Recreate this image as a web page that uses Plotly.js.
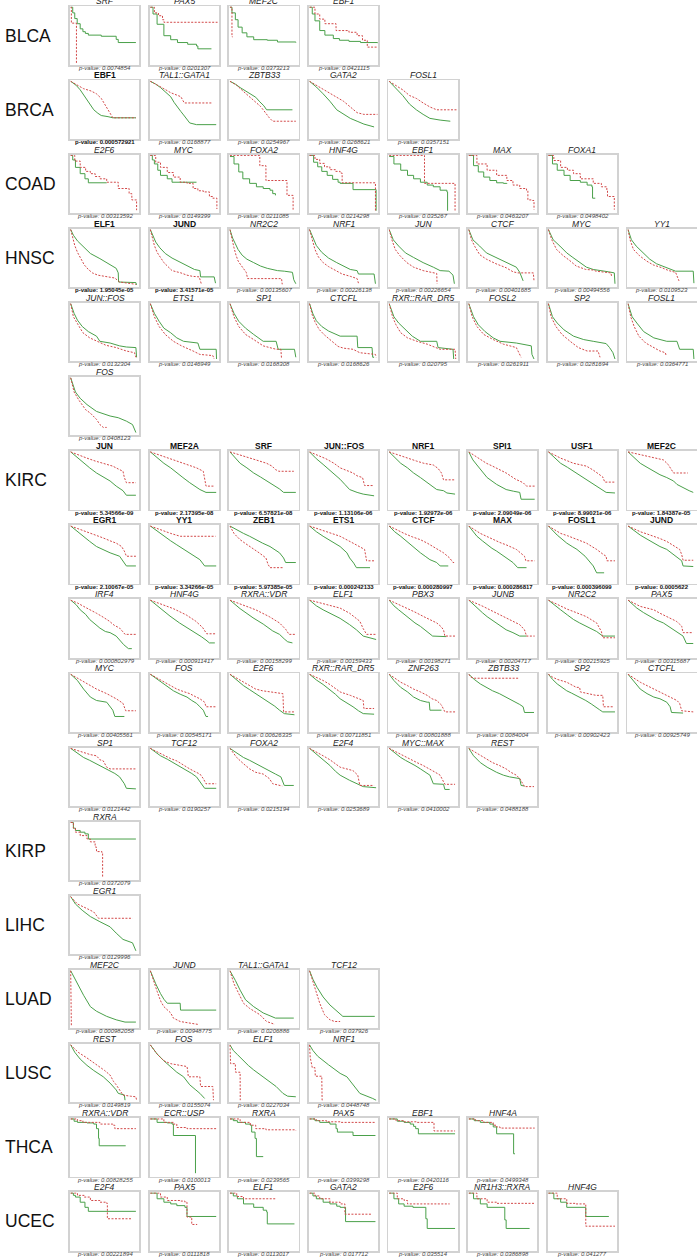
<!DOCTYPE html>
<html><head><meta charset="utf-8">
<script src="https://cdn.plot.ly/plotly-3.0.1.min.js"></script>
<style>html,body{margin:0;padding:0;background:#fff}#chart{width:697px;height:1259px}</style>
</head><body><div id="chart"></div>
<script>
// ---------------- DATA ----------------
const cancerTypes = ["BLCA","BRCA","COAD","HNSC","KIRC","KIRP","LIHC","LUAD","LUSC","THCA","UCEC"];
const panelsPerCancer = [4,5,7,17,38,1,1,4,4,6,7];
const genes = [
 "SRF","PAX5","MEF2C","EBF1",
 "EBF1","TAL1::GATA1","ZBTB33","GATA2","FOSL1",
 "E2F6","MYC","FOXA2","HNF4G","EBF1","MAX","FOXA1",
 "ELF1","JUND","NR2C2","NRF1","JUN","CTCF","MYC","YY1","JUN::FOS","ETS1","SP1","CTCFL","RXR::RAR_DR5","FOSL2","SP2","FOSL1","FOS",
 "JUN","MEF2A","SRF","JUN::FOS","NRF1","SPI1","USF1","MEF2C","EGR1","YY1","ZEB1","ETS1","CTCF","MAX","FOSL1","JUND",
 "IRF4","HNF4G","RXRA::VDR","ELF1","PBX3","JUNB","NR2C2","PAX5","MYC","FOS","E2F6","RXR::RAR_DR5","ZNF263","ZBTB33","SP2","CTCFL",
 "SP1","TCF12","FOXA2","E2F4","MYC::MAX","REST",
 "RXRA",
 "EGR1",
 "MEF2C","JUND","TAL1::GATA1","TCF12",
 "REST","FOS","ELF1","NRF1",
 "RXRA::VDR","ECR::USP","RXRA","PAX5","EBF1","HNF4A",
 "E2F4","PAX5","ELF1","GATA2","E2F6","NR1H3::RXRA","HNF4G"
];
const pValues = [
 "0.0074854","0.0201307","0.0373213","0.0421115",
 "0.000572921","0.0168877","0.0254967","0.0268621","0.0357151",
 "0.00313592","0.0149399","0.0211085","0.0214298","0.035267","0.0463207","0.0498402",
 "1.95045e-05","3.41571e-05","0.00135607","0.00226138","0.00226654","0.00401685","0.00494556","0.0109523",
 "0.0132304","0.0146949","0.0168308","0.0168626","0.020795","0.0261911","0.0281694","0.0364771","0.0408123",
 "5.34566e-09","2.17395e-08","6.57821e-08","1.13106e-06","1.92972e-06","2.09049e-06","8.99021e-06","1.84387e-05",
 "2.10067e-05","3.34266e-05","5.97385e-05","0.000242133","0.000280997","0.000286817","0.000396099","0.0005622",
 "0.000802979","0.000911417","0.00158299","0.00159433","0.00198271","0.00204717","0.00215925","0.00315687",
 "0.00405561","0.00545171","0.00626335","0.00711851","0.00801888","0.0084004","0.00902423","0.00925749",
 "0.0121442","0.0190257","0.0215194","0.0253689","0.0410002","0.0488188",
 "0.0372079",
 "0.0129996",
 "0.000982058","0.00948775","0.0206886","0.037926",
 "0.0149819","0.0155074","0.0227034","0.0448748",
 "0.00828255","0.0100013","0.0239565","0.0399298","0.0420116","0.0499348",
 "0.00221894","0.0111818","0.0113017","0.017712","0.035514","0.0386898","0.041277"
];
const significantPanels = [4,16,17,33,34,35,36,37,38,39,40,41,42,43,44,45,46,47,48];
const stepCancers = ["BLCA","COAD","KIRP","THCA","UCEC"];

// survival curves: flat lists [time, survival, time, survival, ...]; time 0-100
const solidCurves = [
 // BLCA
 [0,1, 3,0.9, 6,0.8, 9.6,0.71, 14,0.62, 18,0.57, 21.6,0.54, 26,0.51, 45,0.49, 67,0.435, 70,0.38, 96,0.38],
 [0,1, 4,0.88, 10,0.7, 20,0.5, 30,0.43, 40,0.38, 55,0.35, 68,0.32, 70,0.27, 90,0.27],
 [0,1, 3,0.9, 8,0.78, 12,0.65, 18,0.55, 25,0.48, 35,0.43, 55,0.42, 70,0.39, 97,0.38],
 [0,1, 4,0.88, 8,0.76, 15,0.59, 22.6,0.51, 35,0.45, 44,0.42, 58,0.4, 75,0.38, 100,0.37],
 // BRCA
 [0,1, 8,0.93, 14,0.85, 20,0.75, 24,0.67, 30,0.57, 34,0.5, 40,0.44, 45,0.4, 55,0.38, 62,0.36, 96,0.36],
 [0,1, 8,0.95, 15,0.89, 22,0.82, 30,0.73, 35,0.63, 39,0.56, 45,0.47, 49,0.41, 54,0.34, 58,0.27, 68,0.24, 97,0.24],
 [0,1, 8,0.95, 15,0.89, 25,0.82, 30,0.79, 38,0.72, 44,0.64, 50,0.57, 54,0.5, 92,0.5],
 [0,1, 10,0.9, 20,0.78, 30,0.65, 40,0.5, 50,0.42, 60,0.35, 70,0.3, 80,0.25, 95,0.2],
 [0,1, 10,0.88, 20,0.75, 30,0.6, 40,0.5, 50,0.42, 60,0.35, 75,0.32, 90,0.3],
 // COAD
 [0,1, 3,0.92, 7,0.79, 14,0.68, 21,0.59, 26,0.52, 53,0.52],
 [0,1, 3,0.92, 6,0.85, 11,0.74, 15,0.65, 25,0.59, 32,0.53, 68,0.53],
 [0,0.98, 6,0.85, 13,0.71, 19,0.59, 29,0.51, 39,0.45, 49,0.42, 59,0.39, 63,0.33, 67,0.3],
 [0,1, 6,0.88, 12,0.8, 18,0.72, 26,0.65, 34,0.58, 42,0.53, 45,0.51, 64,0.4, 98,0.03],
 [0,0.98, 7,0.85, 17,0.74, 27,0.65, 36,0.59, 46,0.53, 56,0.48, 65,0.45, 75,0.39, 85,0.36, 86,0.03],
 [0,1, 7,0.82, 14,0.71, 22,0.62, 31,0.56, 41,0.52, 51,0.51, 56,0.5],
 [0,1, 6,0.85, 13,0.74, 23,0.65, 32,0.56, 47,0.53, 57,0.48, 64,0.45, 65,0.25, 69,0.25],
 // HNSC
 [0,1, 4,0.9, 10,0.8, 19,0.69, 29,0.58, 43,0.49, 55,0.4, 67,0.32, 70,0.24, 70.5,0.08, 96,0.07, 97,0.03],
 [0,1, 4,0.88, 8,0.78, 14,0.68, 22,0.58, 32,0.5, 45,0.42, 55,0.36, 65,0.3, 73,0.28, 74,0.17, 94,0.17, 96,0.06],
 [0,1, 4,0.85, 8,0.75, 12,0.65, 18,0.55, 25,0.48, 35,0.42, 45,0.36, 55,0.32, 70,0.28, 80,0.27, 92,0.25, 94,0.12, 97,0.05],
 [0,1, 5,0.85, 10,0.72, 18,0.6, 28,0.5, 40,0.42, 50,0.36, 60,0.3, 70,0.28, 72,0.22, 95,0.22, 97,0.05],
 [0,1, 6,0.82, 14,0.71, 24,0.59, 36,0.51, 50,0.42, 65,0.34, 75,0.28, 88,0.27, 94,0.2, 96,0.05],
 [0,1, 6,0.82, 16,0.71, 26,0.59, 40,0.51, 55,0.42, 70,0.34, 75,0.25, 78,0.16, 80,0.1],
 [0,1, 7,0.82, 17,0.71, 27,0.59, 36,0.51, 46,0.42, 56,0.34, 66,0.3, 80,0.28, 88,0.26, 97,0.24, 98,0.05],
 [0,1, 5,0.82, 12,0.71, 22,0.59, 32,0.48, 42,0.4, 55,0.34, 65,0.3, 70,0.27, 96,0.27, 97,0.06],
 [0,1, 5,0.83, 10,0.71, 17,0.6, 26,0.51, 38,0.43, 43,0.34, 58,0.31, 72,0.26, 82,0.24, 96,0.23, 97,0.06],
 [0,1, 6,0.83, 13,0.69, 20,0.57, 30,0.49, 39,0.4, 49,0.34, 70,0.31, 73,0.2, 97,0.2, 97.5,0.03],
 [0,1, 6,0.83, 13,0.69, 23,0.57, 35,0.46, 49,0.34, 68,0.34, 71,0.2, 95,0.2, 97,0.06],
 [0,1, 5,0.82, 10,0.7, 18,0.6, 28,0.52, 38,0.46, 45,0.43, 70,0.43, 71,0.23, 92,0.23, 93,0.06, 95,0.06],
 [0,1, 7,0.77, 14,0.66, 24,0.54, 34,0.43, 46,0.34, 70,0.34, 72,0.23, 94,0.2, 95,0.03],
 [0,1, 7,0.77, 14,0.63, 24,0.51, 36,0.4, 46,0.34, 70,0.31, 92,0.26, 93,0.11, 96,0.03],
 [0,1, 6,0.77, 13,0.66, 23,0.54, 37,0.43, 52,0.37, 66,0.34, 85,0.3, 90,0.23, 95,0.14, 98,0.03],
 [0,1, 6,0.77, 13,0.66, 23,0.51, 38,0.4, 57,0.34, 72,0.34, 76,0.2, 96,0.2, 97,0.03],
 [0,1, 7,0.75, 14,0.64, 24,0.53, 38,0.41, 58,0.33, 70,0.3, 82,0.24, 91,0.18, 96,0.04],
 // KIRC row 1
 [0,1, 10,0.9, 19,0.8, 28,0.72, 38,0.63, 48,0.56, 58,0.49, 67,0.4, 77,0.32, 82,0.24, 96,0.24],
 [0,1, 10,0.9, 20,0.8, 30,0.72, 39,0.63, 48,0.55, 58,0.46, 66,0.4, 73,0.34, 82,0.29, 97,0.29],
 [0,1, 7,0.9, 15,0.8, 25,0.72, 35,0.63, 45,0.56, 54,0.49, 67,0.4, 73,0.35, 79,0.29, 97,0.29],
 [0,1, 10,0.88, 20,0.78, 30,0.68, 40,0.58, 45,0.52, 52,0.43, 59,0.34, 70,0.29, 79,0.26, 95,0.23],
 [0,1, 8,0.9, 17,0.8, 27,0.72, 36,0.63, 46,0.55, 56,0.46, 63,0.4, 70,0.34, 80,0.32, 85,0.28, 97,0.26],
 [0,1, 6,0.86, 12,0.77, 17,0.69, 27,0.55, 41,0.43, 55,0.34, 66,0.31, 75,0.29, 77,0.17, 97,0.17],
 [0,1, 9,0.9, 18,0.8, 28,0.73, 37,0.66, 47,0.59, 56,0.52, 64,0.46, 71,0.4, 80,0.34, 85,0.29, 98,0.28],
 [0,1, 9,0.9, 18,0.8, 28,0.73, 38,0.66, 47,0.6, 57,0.55, 67,0.49, 72,0.43, 81,0.37, 90,0.32, 96,0.29],
 // KIRC row 2
 [0,1, 10,0.9, 19,0.82, 28,0.73, 38,0.64, 48,0.58, 58,0.53, 72,0.47, 77,0.39, 82,0.3, 96,0.3],
 [0,1, 10,0.91, 20,0.82, 30,0.74, 39,0.67, 48,0.6, 58,0.53, 66,0.47, 73,0.41, 80,0.3, 97,0.3],
 [0,1, 10,0.93, 20,0.87, 29,0.82, 38,0.76, 48,0.7, 59,0.64, 66,0.58, 73,0.53, 79,0.44, 82,0.36, 97,0.36],
 [0,1, 10,0.9, 20,0.82, 30,0.75, 38,0.69, 45,0.64, 55,0.53, 59,0.44, 65,0.35, 69,0.27, 89,0.27],
 [0,1, 8,0.9, 17,0.82, 24,0.75, 31,0.67, 38,0.6, 46,0.53, 53,0.47, 60,0.41, 70,0.36, 75,0.3, 87,0.3],
 [0,1, 6,0.9, 12,0.82, 20,0.74, 27,0.67, 34,0.61, 41,0.56, 48,0.5, 55,0.44, 65,0.36, 72,0.27, 85,0.27],
 [0,1, 6,0.92, 13,0.84, 20,0.77, 27,0.7, 35,0.64, 42,0.59, 54,0.47, 61,0.36, 66,0.3, 71,0.18, 82,0.18],
 [0,1, 9,0.92, 18,0.84, 28,0.77, 38,0.7, 47,0.64, 57,0.59, 64,0.53, 71,0.47, 79,0.39, 81,0.3, 96,0.29],
 // KIRC row 3
 [0,1, 8,0.92, 14,0.83, 22,0.75, 28,0.66, 36,0.58, 43,0.51, 51,0.45, 58,0.43, 67,0.37, 72,0.3, 78,0.22, 85,0.15, 90,0.15],
 [0,1, 14,0.86, 29,0.72, 43,0.6, 57,0.5, 67,0.42, 75,0.36, 82,0.3, 87,0.25, 95,0.25],
 [0,1, 15,0.85, 34,0.69, 49,0.58, 63,0.46, 73,0.4, 80,0.32, 85,0.27, 92,0.25],
 [0,1, 10,0.9, 20,0.83, 30,0.77, 38,0.72, 45,0.68, 59,0.57, 69,0.48, 79,0.37, 98,0.31],
 [0,1, 7,0.9, 14,0.83, 22,0.75, 31,0.66, 38,0.6, 46,0.54, 56,0.45, 64,0.37, 84,0.36],
 [0,1, 6,0.93, 12,0.86, 20,0.78, 27,0.71, 34,0.65, 41,0.6, 48,0.54, 55,0.48, 65,0.43, 75,0.37, 85,0.37],
 [0,1, 9,0.91, 18,0.83, 28,0.74, 37,0.66, 46,0.6, 56,0.54, 64,0.49, 71,0.45, 80,0.37, 98,0.37],
 [0,1, 7,0.93, 13,0.86, 23,0.78, 33,0.71, 42,0.65, 52,0.6, 60,0.54, 67,0.48, 74,0.43, 81,0.37, 86,0.24, 96,0.24],
 // KIRC row 4
 [0,1, 5,0.94, 10,0.89, 19,0.74, 29,0.6, 38,0.54, 53,0.51, 62,0.37, 65,0.26, 79,0.26],
 [0,1, 8,0.93, 15,0.86, 25,0.78, 34,0.71, 44,0.65, 54,0.6, 61,0.54, 68,0.49, 73,0.43, 78,0.37, 82,0.26, 85,0.26],
 [0,1, 10,0.9, 20,0.8, 29,0.73, 38,0.66, 48,0.58, 58,0.51, 66,0.44, 73,0.37, 80,0.31, 95,0.29],
 [0,1, 10,0.9, 20,0.82, 30,0.73, 38,0.65, 45,0.57, 55,0.5, 64,0.43, 72,0.36, 79,0.31, 95,0.3],
 [0,1, 7,0.89, 17,0.77, 27,0.69, 36,0.6, 46,0.54, 56,0.51, 59,0.51, 60,0.37, 77,0.37],
 [0,1, 8,0.91, 17,0.83, 26,0.77, 35,0.71, 45,0.66, 55,0.6, 62,0.55, 70,0.51, 75,0.47, 80,0.43, 82,0.33, 96,0.33],
 [0,1, 6,0.91, 13,0.83, 20,0.77, 27,0.71, 34,0.67, 41,0.63, 48,0.58, 55,0.54, 63,0.48, 70,0.43, 75,0.38, 80,0.34, 98,0.34],
 [0,1, 9,0.86, 18,0.74, 28,0.66, 38,0.6, 47,0.57, 57,0.51, 62,0.43, 64,0.33, 81,0.32],
 // KIRC row 5
 [0,1, 10,0.92, 19,0.84, 28,0.79, 38,0.73, 48,0.67, 58,0.61, 65,0.56, 72,0.5, 79,0.38, 82,0.3, 96,0.29],
 [0,1, 8,0.93, 15,0.87, 25,0.81, 34,0.75, 44,0.68, 54,0.61, 61,0.56, 68,0.5, 75,0.38, 80,0.3, 97,0.3],
 [0,1, 10,0.92, 20,0.84, 29,0.79, 38,0.73, 48,0.67, 58,0.61, 67,0.55, 75,0.5, 80,0.35, 94,0.35],
 [0,1, 10,0.9, 20,0.8, 30,0.7, 38,0.6, 45,0.53, 59,0.44, 69,0.38, 79,0.33, 98,0.31],
 [0,1, 8,0.92, 17,0.84, 24,0.79, 31,0.75, 38,0.7, 46,0.64, 53,0.58, 60,0.53, 65,0.38, 80,0.37, 82,0.28, 89,0.28],
 [0,1, 7,0.87, 17,0.75, 27,0.67, 41,0.58, 51,0.53, 60,0.5, 75,0.47, 77,0.35, 82,0.34],
 // KIRP
 [0,1, 4,0.9, 7,0.86, 14,0.83, 21,0.8, 26,0.71, 96,0.71],
 // LIHC
 [0,1, 7,0.87, 17,0.76, 29,0.65, 43,0.56, 58,0.47, 67,0.36, 77,0.25, 91,0.19, 96,0.05],
 // LUAD
 [0,1, 5,0.88, 10,0.77, 15,0.67, 19,0.57, 24,0.47, 29,0.37, 38,0.29, 53,0.2, 67,0.14, 80,0.1, 96,0.1],
 [0,1, 4,0.88, 8,0.77, 15,0.6, 20,0.5, 25,0.43, 44,0.43, 44.5,0.31, 97,0.31],
 [0,1, 4,0.9, 8,0.83, 15,0.66, 23,0.49, 35,0.37, 49,0.26, 67,0.17, 94,0.17],
 [0,1, 5,0.85, 11,0.71, 20,0.54, 30,0.4, 39,0.31, 49,0.2, 96,0.2],
 // LUSC
 [0,1, 6,0.87, 14,0.75, 24,0.64, 34,0.55, 43,0.48, 48,0.44, 58,0.33, 67,0.21, 70,0.15, 79,0.12, 80,0.03],
 [0,1, 10,0.84, 20,0.72, 30,0.61, 39,0.52, 49,0.44, 58,0.3, 66,0.22, 73,0.15, 80,0.06],
 [0,1, 5,0.9, 11,0.83, 20,0.72, 27,0.64, 35,0.56, 42,0.5, 49,0.44, 56,0.38, 62,0.32, 68,0.27, 78,0.15, 85,0.1, 97,0.09],
 [0,1, 5,0.9, 12,0.8, 20,0.72, 28,0.65, 36,0.58, 45,0.5, 55,0.44, 64,0.3, 74,0.15, 93,0.06, 98,0.03],
 // THCA
 [0,1, 5,0.96, 10,0.94, 24,0.93, 34,0.91, 38,0.83, 41,0.66, 42,0.53, 81,0.53],
 [0,1, 10,0.94, 25,0.93, 32,0.91, 34,0.71, 66,0.71, 66.5,0.05],
 [0,1, 5,0.97, 11,0.94, 23,0.91, 30,0.89, 32,0.77, 37,0.66, 39,0.34, 49,0.34],
 [0,1, 8,0.97, 15,0.94, 30,0.91, 39,0.83, 41,0.77, 64,0.71, 97,0.71],
 [0,1, 12,0.96, 22,0.94, 31,0.91, 36,0.87, 39,0.83, 43,0.74, 97,0.74],
 [0,1, 8,0.97, 17,0.94, 31,0.91, 36,0.86, 41,0.74, 66,0.39, 68,0.39],
 // UCEC
 [0,1, 4,0.96, 7,0.93, 14,0.84, 21,0.75, 26,0.68, 96,0.68],
 [0,1, 10,0.9, 20,0.84, 30,0.81, 39,0.78, 51,0.75, 54,0.59, 97,0.59],
 [0,1, 5,0.95, 11,0.9, 20,0.81, 35,0.75, 49,0.7, 54,0.67, 55,0.46, 95,0.46],
 [0,1, 5,0.95, 10,0.9, 20,0.84, 30,0.81, 40,0.77, 45,0.75, 53,0.5, 97,0.5],
 [0,1, 7,0.9, 14,0.81, 22,0.77, 35,0.75, 54,0.55, 56,0.38, 97,0.38],
 [0,1, 7,0.9, 17,0.81, 27,0.75, 53,0.53, 55,0.38, 89,0.37],
 [0,1, 8,0.9, 18,0.84, 27,0.75, 55,0.59, 89,0.59]
];
const dashedCurves = [
 // BLCA
 [0,1, 1,0.72, 8.5,0.02, 9,0.02],
 [0,1, 6,0.9, 12,0.85, 18,0.78, 20,0.735, 99,0.735],
 [0,1, 3,0.48, 4,0.48],
 [0,1, 8,0.88, 15,0.79, 22.6,0.71, 39,0.59, 58,0.56, 70,0.5, 78,0.42, 85,0.3, 100,0.3],
 // BRCA
 [0,1, 10,0.93, 19,0.87, 30,0.83, 38,0.78, 45,0.7, 50,0.6, 55,0.5, 62,0.36, 96,0.36],
 [0,1, 10,0.94, 20,0.87, 30,0.8, 38,0.76, 45,0.73, 50,0.62, 92,0.62],
 [0,1, 10,0.93, 20,0.82, 30,0.72, 35,0.67, 45,0.56, 49,0.5, 55,0.4, 58,0.36, 63,0.3, 97,0.3],
 [0,1, 10,0.93, 20,0.85, 35,0.75, 50,0.65, 60,0.55, 70,0.45, 80,0.42, 100,0.42],
 [0,1, 10,0.92, 20,0.85, 30,0.75, 40,0.7, 50,0.62, 60,0.55, 70,0.5, 100,0.5],
 // COAD
 [0,1, 6,0.9, 14,0.79, 22,0.72, 29,0.68, 36,0.63, 43,0.59, 53,0.53, 67,0.53, 70,0.42, 84,0.42, 86,0.33, 90,0.22, 96,0.22, 97,0.04],
 [0,1, 8,0.88, 15,0.79, 25,0.7, 34,0.62, 44,0.53, 54,0.51, 63,0.42, 70,0.38, 78,0.36, 87,0.28, 92,0.25, 98,0.06],
 [0,1, 44,0.82, 53,0.56, 84,0.3, 93,0.05],
 [0,1, 8,0.93, 15,0.86, 22,0.8, 30,0.75, 38,0.72, 45,0.69, 48,0.52, 97,0.02],
 [0,1, 52,0.51, 97,0.03],
 [0,1, 12,0.85, 27,0.74, 41,0.65, 56,0.56, 65,0.48, 75,0.42, 85,0.39, 87,0.22, 94,0.21, 96,0.05],
 [0,1, 8,0.91, 18,0.79, 28,0.74, 37,0.68, 47,0.59, 66,0.51, 78,0.45, 86,0.39, 87,0.28, 95,0.28, 97,0.05],
 // HNSC
 [0,1, 3,0.85, 6,0.72, 10,0.6, 15,0.48, 20,0.38, 26,0.3, 32,0.24, 40,0.2, 55,0.17, 65,0.15, 72,0.08, 96,0.04],
 [0,1, 3,0.85, 6,0.72, 10,0.6, 15,0.5, 20,0.42, 26,0.35, 32,0.28, 45,0.24, 54,0.2, 62,0.18, 72,0.17, 75,0.05],
 [0,1, 3,0.82, 6,0.68, 9,0.55, 12,0.45, 16,0.38, 20,0.32, 24,0.25, 26,0.14, 76,0.14, 77,0.04],
 [0,1, 4,0.8, 8,0.65, 13,0.52, 20,0.42, 28,0.35, 38,0.28, 48,0.22, 60,0.18, 70,0.14, 72,0.06],
 [0,1, 4,0.82, 9,0.65, 16,0.54, 26,0.42, 36,0.34, 50,0.28, 60,0.25, 70,0.23, 70.5,0.05],
 [0,1, 4,0.82, 9,0.7, 16,0.56, 26,0.48, 40,0.4, 55,0.33, 65,0.26, 72,0.24, 95,0.24, 96,0.1],
 [0,1, 5,0.82, 12,0.65, 22,0.54, 31,0.46, 41,0.36, 55,0.3, 66,0.29, 70,0.27, 92,0.24, 93,0.18],
 [0,1, 3,0.82, 8,0.65, 17,0.54, 27,0.45, 37,0.38, 50,0.33, 60,0.28, 70,0.25, 72,0.18, 75,0.1],
 [0,1, 4,0.77, 11,0.63, 18,0.49, 28,0.4, 38,0.34, 52,0.27, 67,0.23, 82,0.17, 94,0.14, 96,0.06],
 [0,1, 6,0.77, 13,0.6, 22,0.46, 34,0.34, 46,0.26, 63,0.17, 73,0.11, 92,0.09, 94,0.03],
 [0,1, 6,0.77, 13,0.6, 23,0.46, 35,0.37, 49,0.26, 68,0.2, 75,0.2, 76,0.03],
 [0,1, 4,0.8, 8,0.68, 14,0.55, 22,0.45, 32,0.35, 42,0.25, 50,0.22, 64,0.2, 74,0.14, 97,0.11, 98,0.06],
 [0,1, 5,0.77, 10,0.63, 17,0.49, 27,0.4, 41,0.34, 56,0.29, 75,0.2, 97,0.2, 98,0.03],
 [0,1, 5,0.77, 12,0.6, 22,0.46, 36,0.37, 51,0.29, 70,0.23, 75,0.11, 77,0.06],
 [0,1, 4,0.77, 11,0.6, 20,0.46, 32,0.34, 44,0.23, 57,0.17, 73,0.17, 76,0.06],
 [0,1, 4,0.77, 9,0.6, 16,0.43, 26,0.31, 38,0.23, 47,0.17, 55,0.14, 56,0.09],
 [0,1, 5,0.75, 12,0.61, 22,0.44, 29,0.38, 38,0.27, 43,0.18, 48,0.13, 53,0.13],
 // KIRC row 1
 [0,1, 12,0.94, 24,0.89, 36,0.84, 47,0.8, 62,0.75, 70,0.7, 77,0.66, 79,0.55, 82,0.46, 96,0.46],
 [0,1, 12,0.95, 25,0.89, 37,0.84, 49,0.8, 68,0.72, 78,0.66, 80,0.52, 82,0.4, 95,0.4],
 [0,1, 20,0.92, 38,0.86, 54,0.8, 62,0.75, 67,0.69, 72,0.66, 94,0.66],
 [0,1, 12,0.94, 24,0.88, 36,0.8, 45,0.72, 64,0.63, 70,0.58, 78,0.55, 81,0.41, 95,0.41],
 [0,1, 14,0.94, 27,0.89, 40,0.84, 51,0.8, 65,0.77, 72,0.71, 77,0.63, 80,0.51, 97,0.51],
 [0,1, 17,0.86, 26,0.8, 35,0.75, 45,0.69, 55,0.63, 69,0.52, 80,0.46, 85,0.4, 97,0.4],
 [0,1, 18,0.89, 37,0.8, 56,0.75, 66,0.68, 76,0.6, 80,0.56, 83,0.47, 98,0.47],
 [0,1, 18,0.95, 38,0.89, 52,0.86, 59,0.78, 64,0.69, 67,0.63, 88,0.63],
 // KIRC row 2
 [0,1, 12,0.95, 24,0.9, 36,0.84, 48,0.79, 58,0.74, 67,0.7, 75,0.64, 79,0.56, 82,0.47, 96,0.47],
 [0,1, 15,0.93, 30,0.87, 44,0.82, 96,0.82],
 [0,1, 3,0.92, 6,0.87, 10,0.82, 15,0.76, 22,0.7, 30,0.64, 37,0.58, 43,0.53, 53,0.44, 56,0.33, 59,0.27, 78,0.27],
 [0,1, 12,0.95, 25,0.9, 35,0.86, 45,0.82, 64,0.7, 74,0.64, 81,0.59, 84,0.39, 95,0.39],
 [0,1, 11,0.93, 22,0.87, 34,0.81, 46,0.76, 56,0.7, 65,0.64, 73,0.58, 80,0.53, 89,0.44, 94,0.36, 97,0.36],
 [0,1, 8,0.94, 17,0.87, 26,0.82, 36,0.76, 46,0.71, 55,0.67, 63,0.63, 70,0.59, 76,0.53, 82,0.47, 84,0.39, 97,0.39],
 [0,1, 9,0.93, 18,0.87, 28,0.83, 37,0.79, 47,0.75, 56,0.7, 64,0.64, 71,0.59, 81,0.5, 85,0.47, 86,0.39, 98,0.39],
 [0,1, 9,0.95, 18,0.9, 28,0.86, 38,0.82, 47,0.78, 57,0.73, 64,0.68, 71,0.64, 76,0.59, 79,0.5, 81,0.4, 96,0.4],
 // KIRC row 3
 [0,1, 10,0.95, 19,0.89, 29,0.83, 38,0.77, 48,0.7, 57,0.63, 64,0.56, 72,0.51, 78,0.43, 80,0.4, 96,0.4],
 [0,1, 14,0.94, 34,0.85, 53,0.74, 67,0.63, 77,0.52, 81,0.45, 83,0.41, 97,0.41],
 [0,1, 19,0.91, 38,0.83, 58,0.71, 73,0.6, 82,0.49, 87,0.4, 97,0.4],
 [0,1, 12,0.96, 25,0.92, 35,0.89, 45,0.86, 59,0.77, 66,0.7, 74,0.63, 79,0.5, 84,0.4, 98,0.4],
 [0,1, 13,0.93, 26,0.86, 38,0.79, 51,0.71, 60,0.66, 70,0.6, 76,0.54, 80,0.48, 82,0.37, 97,0.37],
 [0,1, 10,0.95, 21,0.89, 31,0.83, 41,0.77, 50,0.72, 60,0.66, 70,0.6, 75,0.57, 82,0.48, 85,0.37, 97,0.37],
 [0,1, 9,0.95, 18,0.89, 28,0.84, 37,0.8, 47,0.75, 56,0.71, 64,0.65, 71,0.6, 78,0.45, 80,0.34, 98,0.34],
 [0,1, 9,0.94, 18,0.89, 28,0.86, 38,0.83, 47,0.77, 57,0.71, 64,0.67, 71,0.63, 76,0.58, 79,0.54, 81,0.43, 96,0.43],
 // KIRC row 4
 [0,1, 10,0.93, 19,0.86, 29,0.8, 38,0.74, 53,0.66, 67,0.57, 77,0.49, 81,0.36, 96,0.36],
 [0,1, 10,0.93, 20,0.86, 30,0.8, 39,0.74, 48,0.7, 58,0.66, 66,0.61, 73,0.57, 80,0.51, 82,0.43, 97,0.43],
 [0,1, 10,0.93, 20,0.86, 29,0.8, 38,0.74, 48,0.71, 58,0.69, 78,0.66, 79,0.34, 95,0.34],
 [0,1, 10,0.95, 20,0.89, 30,0.82, 38,0.75, 45,0.69, 60,0.63, 74,0.57, 79,0.54, 80,0.4, 95,0.4],
 [0,1, 8,0.93, 17,0.86, 27,0.8, 36,0.74, 46,0.69, 56,0.63, 63,0.57, 70,0.54, 77,0.46, 82,0.34, 97,0.34],
 [0,1, 3,0.95, 8,0.93, 74,0.93],
 [0,1, 6,0.95, 13,0.91, 27,0.86, 41,0.77, 46,0.77, 47,0.69, 61,0.66, 70,0.63, 80,0.63, 81,0.43, 95,0.43],
 [0,1, 9,0.93, 18,0.86, 28,0.8, 38,0.74, 47,0.69, 57,0.63, 66,0.58, 72,0.54, 76,0.49, 79,0.36, 96,0.34],
 // KIRC row 5
 [0,1, 10,0.96, 19,0.93, 29,0.89, 38,0.87, 43,0.8, 48,0.78, 53,0.67, 58,0.64, 96,0.64],
 [0,1, 10,0.94, 20,0.87, 30,0.82, 39,0.78, 48,0.71, 58,0.64, 66,0.59, 73,0.55, 78,0.47, 82,0.38, 97,0.38],
 [0,1, 5,0.92, 10,0.84, 20,0.73, 29,0.64, 38,0.58, 49,0.55, 58,0.47, 63,0.38, 77,0.34],
 [0,1, 10,0.94, 20,0.87, 30,0.8, 38,0.73, 45,0.67, 64,0.61, 71,0.53, 74,0.35, 95,0.35],
 [0,1, 11,0.93, 22,0.87, 31,0.81, 41,0.75, 50,0.7, 60,0.64, 68,0.58, 75,0.53, 80,0.41, 82,0.37, 97,0.37],
 [0,1, 8,0.94, 17,0.87, 26,0.81, 35,0.75, 45,0.7, 55,0.64, 62,0.58, 70,0.53, 75,0.47, 82,0.33, 96,0.33],
 // KIRP
 [0,1, 4,0.9, 7,0.83, 14,0.77, 24,0.71, 29,0.66, 36,0.57, 38,0.49, 46,0.46, 47,0.03],
 // LIHC
 [0,1, 5,0.93, 10,0.87, 24,0.79, 34,0.73, 41,0.62, 91,0.62],
 // LUAD
 [0,1, 0.5,0.03, 1,0.03],
 [0,1, 3,0.88, 6,0.77, 10,0.64, 13,0.54, 16,0.45, 20,0.37, 30,0.26, 34,0.17, 44,0.11, 54,0.09, 70,0.06],
 [0,1, 3,0.88, 6,0.77, 13,0.6, 20,0.43, 29,0.34, 44,0.23, 54,0.11, 66,0.06],
 [0,1, 4,0.85, 8,0.71, 15,0.43, 22,0.23, 30,0.14, 37,0.11, 45,0.11],
 // LUSC
 [0,1, 11,0.87, 24,0.77, 38,0.66, 50,0.55, 58,0.47, 63,0.36, 67,0.3, 72,0.21, 77,0.12, 88,0.1, 96,0.09, 97,0.03],
 [0,1, 10,0.84, 20,0.72, 30,0.67, 44,0.64, 54,0.62, 55,0.55, 56,0.44, 73,0.44, 74,0.27, 92,0.27, 93,0.03],
 [0,1, 1,0.67, 8,0.67, 8.2,0.52, 15,0.52, 15.2,0.03],
 [0,1, 1,0.78, 4,0.6, 8,0.6, 8.5,0.45, 18,0.45, 18.5,0.03, 19,0.03],
 // THCA
 [0,1, 10,0.97, 18,0.94, 43,0.91, 62,0.89, 65,0.83, 96,0.83],
 [0,1, 20,0.94, 34,0.91, 39,0.85, 54,0.83, 97,0.83],
 [0,1, 15,0.94, 30,0.89, 38,0.83, 53,0.81, 97,0.8],
 [0,1, 10,0.97, 25,0.95, 45,0.94, 97,0.93],
 [0,1, 10,0.97, 22,0.95, 41,0.94, 66,0.79, 97,0.79],
 [0,1, 10,0.97, 22,0.94, 36,0.89, 41,0.86, 46,0.84, 97,0.84],
 // UCEC
 [0,1, 10,0.96, 20,0.93, 29,0.87, 43,0.84, 53,0.82, 54,0.55, 91,0.55],
 [0,1, 15,0.93, 25,0.87, 44,0.86, 51,0.84, 54,0.58, 61,0.45, 69,0.45],
 [0,1, 10,0.94, 20,0.9, 68,0.9],
 [0,1, 8,0.95, 15,0.9, 30,0.84, 45,0.81, 52,0.63, 91,0.63],
 [0,1, 12,0.9, 22,0.87, 27,0.81, 89,0.81],
 [0,1, 12,0.9, 27,0.84, 41,0.82, 97,0.81],
 [0,1, 13,0.9, 27,0.82, 40,0.81, 55,0.42, 98,0.42]
];

// ---------------- LAYOUT ----------------
const W = 697, H = 1259;
const COL0 = 70, COLSTEP = 79.62, PW = 69.3;
const ROW0 = 6.3, ROWSTEP = 74.12, PH = 58.5;
const PER_ROW = 8;
const FONT = "Liberation Sans, Arial, Helvetica, sans-serif";
const GREEN = "#4aa04a", RED = "#d24848";

function pairs(flat){ const x=[],y=[]; for(let i=0;i<flat.length;i+=2){x.push(flat[i]);y.push(flat[i+1]);} return {x,y}; }

const traces = [];
const annotations = [];
const layout = {
  width: W, height: H, margin: {l:0,r:0,t:0,b:0},
  paper_bgcolor: "#fff", plot_bgcolor: "#fff", showlegend: false,
  font: {family: FONT}, annotations: annotations
};

let p = 0, row = 0;
cancerTypes.forEach((cancer, ci) => {
  const n = panelsPerCancer[ci];
  const shape = stepCancers.includes(cancer) ? "hv" : "linear";
  annotations.push({
    text: cancer, x: 3/W, y: 1 - (ROW0 + row*ROWSTEP + PH/2)/H, xref: "paper", yref: "paper",
    xanchor: "left", yanchor: "middle", showarrow: false,
    font: {size: 17.5, color: "#111", family: FONT}
  });
  for (let k = 0; k < n; k++, p++) {
    const r = row + Math.floor(k / PER_ROW), c = k % PER_ROW;
    const x0 = COL0 + c*COLSTEP, y0 = ROW0 + r*ROWSTEP;
    const id = p + 1;
    const xa = id === 1 ? "x" : "x" + id, ya = id === 1 ? "y" : "y" + id;
    const axCommon = {showgrid:false, zeroline:false, showticklabels:false, ticks:"",
      showline:true, mirror:true, linecolor:"#d2d2d2", linewidth:1.8, fixedrange:true};
    layout["xaxis" + (id === 1 ? "" : id)] = Object.assign({}, axCommon,
      {domain:[x0/W, (x0+PW)/W], range:[-1, 101], anchor: ya});
    layout["yaxis" + (id === 1 ? "" : id)] = Object.assign({}, axCommon,
      {domain:[1-(y0+PH)/H, 1-y0/H], range:[-0.01, 1.015], anchor: xa});
    const g = pairs(solidCurves[p]), d = pairs(dashedCurves[p]);
    traces.push({type:"scatter", mode:"lines", x:g.x, y:g.y, xaxis:xa, yaxis:ya,
      line:{color:GREEN, width:1, shape:shape}, hoverinfo:"skip"});
    traces.push({type:"scatter", mode:"lines", x:d.x, y:d.y, xaxis:xa, yaxis:ya,
      line:{color:RED, width:1, dash:"2px,1.5px", shape:shape}, hoverinfo:"skip"});
    const bold = significantPanels.includes(p);
    annotations.push({
      text: bold ? "<b>" + genes[p] + "</b>" : "<i>" + genes[p] + "</i>",
      x: (x0 + PW/2)/W, y: 1 - y0/H, xref:"paper", yref:"paper",
      xanchor:"center", yanchor:"bottom", showarrow:false, yshift:-1, borderpad:0,
      font:{size:8.5, color: bold ? "#111" : "#222", family: FONT}
    });
    annotations.push({
      text: bold ? "<b>p-value: " + pValues[p] + "</b>" : "<i>p-value: " + pValues[p] + "</i>",
      x: (x0 + PW/2)/W, y: 1 - (y0 + PH)/H, xref:"paper", yref:"paper",
      xanchor:"center", yanchor:"top", showarrow:false, yshift:1, borderpad:0,
      font:{size:6, color: bold ? "#111" : "#444", family: FONT}
    });
  }
  row += Math.ceil(n / PER_ROW);
});

Plotly.newPlot("chart", traces, layout, {displayModeBar:false, staticPlot:true});
</script>
</body></html>
